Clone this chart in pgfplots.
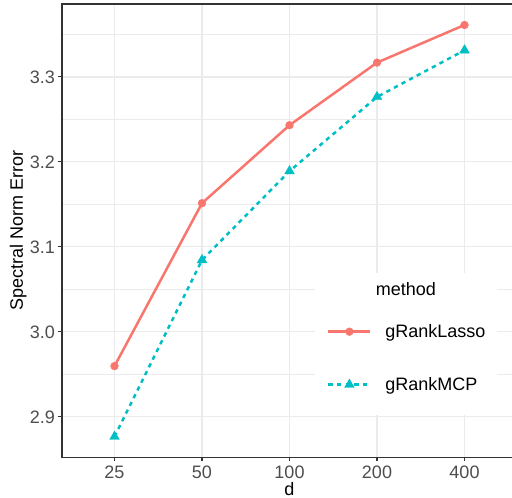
\documentclass[border=0pt]{standalone}
\usepackage{fontspec}
\setmainfont{Liberation Sans}
\usepackage{pgfplots}
\pgfplotsset{compat=1.18}
\definecolor{lassoc}{HTML}{F8766D}
\definecolor{mcpc}{HTML}{00BFC4}
\definecolor{grid92}{HTML}{EBEBEB}
\definecolor{grey20}{HTML}{333333}
\definecolor{grey30}{HTML}{4D4D4D}

\begin{document}
\fontsize{18}{21}\selectfont
\begin{tikzpicture}
\begin{axis}[
  scale only axis, width=455pt, height=453.3pt,
  xmin=-0.6, xmax=4.6, ymin=2.8522, ymax=3.3859,
  xtick={0,1,2,3,4}, xticklabels={25,50,100,200,400},
  ytick={2.9,3.0,3.1,3.2,3.3}, yticklabels={2.9,3.0,3.1,3.2,3.3},
  minor ytick={2.95,3.05,3.15,3.25,3.35},
  xmajorgrids, ymajorgrids, yminorgrids,
  major grid style={color=grid92, line width=1.1pt},
  minor grid style={color=grid92, line width=0.55pt},
  axis line style={color=grey20, line width=1.07pt},
  tick align=outside, major tick length=3.5pt, minor tick length=0pt,
  xtick pos=lower, ytick pos=left,
  major tick style={color=grey20, line width=1.07pt},
  tick label style={font=\fontsize{18}{21}\selectfont, color=grey30, inner sep=0pt, text height=12.9pt, text depth=0pt},
  xticklabel style={anchor=north, yshift=-4.2pt},
  yticklabel style={anchor=east, xshift=-3.5pt},
  xlabel={d}, ylabel={Spectral Norm Error},
  label style={font=\fontsize{18}{21}\selectfont, inner sep=0pt},
  xlabel style={at={(axis description cs:0.5,0)}, anchor=base, yshift=-38.6pt, text depth=0pt},
  ylabel style={at={(axis description cs:0,0.5)}, anchor=center, yshift=43.7pt},
  legend style={at={(axis description cs:0.556,0.4066)}, anchor=north west,
    draw=none, fill=white, inner xsep=12pt, inner ysep=0pt,
    row sep=0pt, column sep=13.7pt, font=\fontsize{18}{21}\selectfont,
    nodes={inner sep=0pt, anchor=base west, text height=13pt, text depth=40pt}},
  legend image code/.code={
    \draw[mark repeat=2, mark phase=2, #1] plot coordinates {(0pt,5.5pt) (21pt,5.5pt) (42pt,5.5pt)};
  },
]
\addlegendimage{empty legend}
\addlegendentry[text height=22.5pt, text depth=28.5pt]{\makebox[0pt][l]{\hspace{-10pt}method}}

\addplot[lassoc, line width=2.5pt, mark=*, mark size=3.9pt, mark options={solid, line width=0.4pt}]
  coordinates {(0,2.9596) (1,3.1514) (2,3.2432) (3,3.3169) (4,3.3612)};
\addlegendentry{gRankLasso}

\addplot[mcpc, line width=2.5pt, dash pattern=on 4.3pt off 4.3pt, mark=triangle*, mark size=5.6pt, mark options={solid, line width=0.4pt}]
  coordinates {(0,2.8765) (1,3.0844) (2,3.1891) (3,3.2765) (4,3.3314)};
\addlegendentry[text depth=25pt]{gRankMCP}
\end{axis}
\pgfresetboundingbox
\path ([xshift=-62pt,yshift=-40.7pt]current axis.south west) rectangle ([xshift=450pt,yshift=4pt]current axis.north west);
\end{tikzpicture}
\end{document}
